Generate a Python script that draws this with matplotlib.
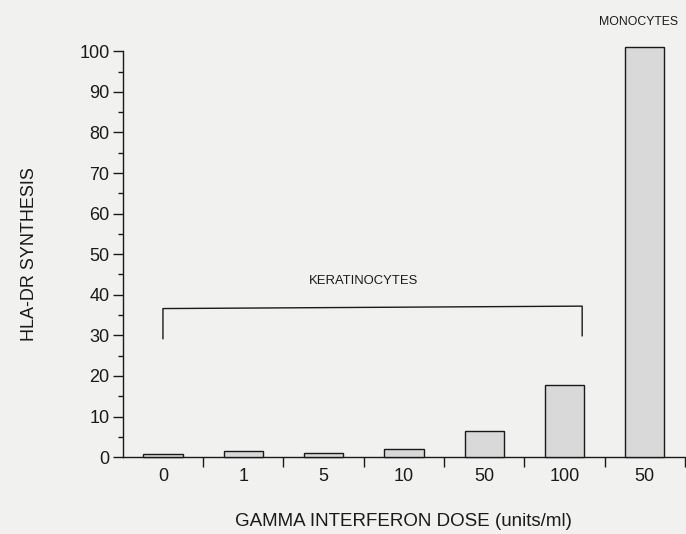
import matplotlib
matplotlib.use("Agg")
import matplotlib.pyplot as plt
from matplotlib.ticker import MultipleLocator, FixedLocator

# data
doses = ["0", "1", "5", "10", "50", "100", "50"]
cell_type = ["keratinocytes"] * 6 + ["monocytes"]
hla_dr = [0.8, 1.5, 1.0, 2.0, 6.5, 17.8, 101.0]

plt.rcParams['font.family'] = ['Liberation Sans', 'DejaVu Sans']

fig = plt.figure(figsize=(6.86, 5.34), dpi=100)
fig.patch.set_facecolor('#f1f1f0')
ax = fig.add_axes([0.179, 0.144, 0.8195, 0.760])
ax.set_facecolor('#f1f1f0')

x = list(range(len(doses)))
ax.bar(x, hla_dr, width=0.49, color='#d9d9d9', edgecolor='#1a1a1a',
       linewidth=1.0, clip_on=False, zorder=3)

ax.set_xlim(-0.5, 6.5)
ax.set_ylim(0, 100)

for side in ['top', 'right']:
    ax.spines[side].set_visible(False)
for side in ['left', 'bottom']:
    ax.spines[side].set_linewidth(1.0)
    ax.spines[side].set_color('#1a1a1a')

ax.yaxis.set_major_locator(MultipleLocator(10))
ax.yaxis.set_minor_locator(MultipleLocator(5))
ax.tick_params(axis='y', which='major', direction='out', length=7.5,
               width=1, labelsize=13, pad=2, colors='#1a1a1a')
ax.tick_params(axis='y', which='minor', direction='out', length=3.5, width=1,
               colors='#1a1a1a')

ax.set_xticks(x)
ax.set_xticklabels(doses)
ax.xaxis.set_minor_locator(FixedLocator([i + 0.5 for i in x]))
ax.tick_params(axis='x', which='major', length=0, labelsize=13, pad=8,
               colors='#1a1a1a')
ax.tick_params(axis='x', which='minor', direction='out', length=7, width=1,
               colors='#1a1a1a')

ax.set_ylabel("HLA-DR SYNTHESIS", fontsize=13, labelpad=30, color='#1a1a1a')
ax.set_xlabel("GAMMA INTERFERON DOSE (units/ml)", fontsize=13.5,
              labelpad=20, color='#1a1a1a')

# bracket over keratinocyte doses
ax.plot([0, 0, 5.22, 5.22], [29.2, 36.6, 37.2, 29.9], color='#1a1a1a',
        linewidth=1.0)
ax.text(2.5, 43.5, "KERATINOCYTES", ha='center', va='center', fontsize=9.4,
        color='#1a1a1a')
ax.text(5.92, 107.2, "MONOCYTES", ha='center', va='center', fontsize=8.8,
        color='#1a1a1a', clip_on=False)

fig.savefig("out.png", dpi=100, facecolor=fig.get_facecolor())
